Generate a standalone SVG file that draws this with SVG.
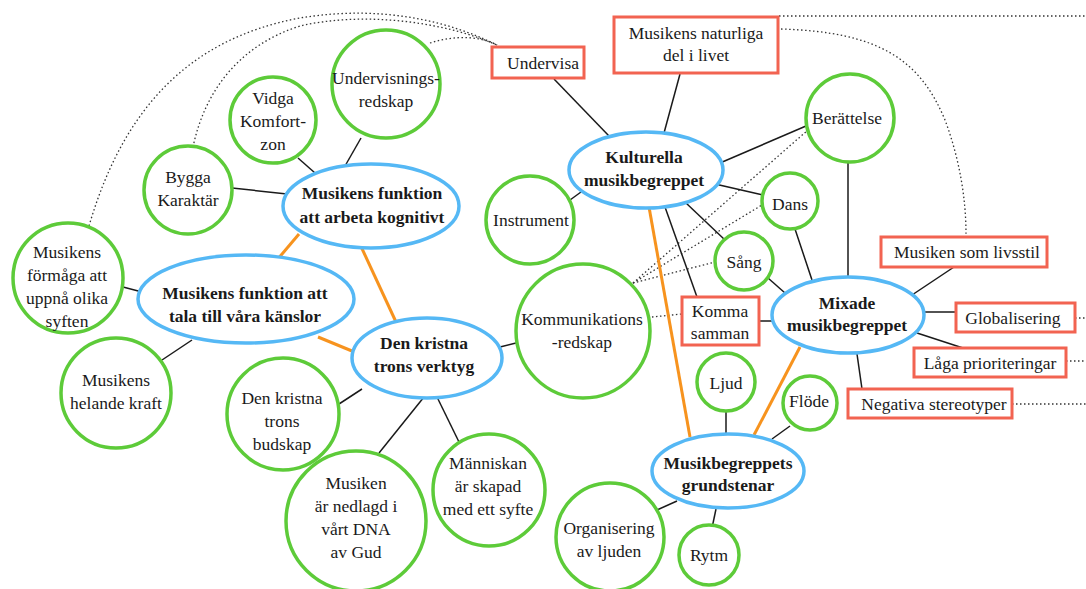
<svg xmlns="http://www.w3.org/2000/svg" width="1086" height="589" viewBox="0 0 1086 589" font-family="'Liberation Serif', 'DejaVu Serif', 'Times New Roman', serif">
<style>
.c{fill:#fff;stroke:#5dcb39;stroke-width:3.5}
.e{fill:#fff;stroke:#55b8f5;stroke-width:3.5}
.r{fill:#fff;stroke:#f26351;stroke-width:3}
text{font-family:'Liberation Serif','DejaVu Serif','Times New Roman',serif}
.t{font-size:17.5px;fill:#1a1a1a;text-anchor:middle}
.b{font-weight:bold}
.k{stroke:#1a1a1a;stroke-width:1.5;fill:none}
.o{stroke:#f7931e;stroke-width:3;fill:none}
.d{stroke:#333;stroke-width:1.3;fill:none;stroke-dasharray:1.5 2.5}
</style>
<rect width="1086" height="589" fill="#fff"/>
<g id="connectors">
<path class="d" d="M89,226 C120,120 180,40 300,18 C360,8 430,12 497,45"/>
<path class="d" d="M193,147 C205,90 240,45 300,26 C360,12 440,20 497,45"/>
<path class="d" d="M430,43 C455,35 480,36 497,45"/>
<path class="d" d="M781,29 C880,32 920,60 945,120 C960,160 966,200 966,234"/>
<path class="d" d="M779,16 L1086,16"/>
<path class="d" d="M1075,318 L1086,318"/>
<path class="d" d="M1066,361 L1086,361"/>
<path class="d" d="M1012,404 L1086,404"/>
<path class="d" d="M633,283 L808,130"/>
<path class="d" d="M633,283 L762,205"/>
<path class="d" d="M633,283 L715,262"/>
<path class="d" d="M652,317 L682,314"/>
<line class="k" x1="361" y1="138" x2="345" y2="166"/>
<line class="k" x1="298" y1="158" x2="315" y2="173"/>
<line class="k" x1="232" y1="188" x2="287" y2="194"/>
<line class="k" x1="123" y1="287" x2="142" y2="292"/>
<line class="k" x1="162" y1="360" x2="192" y2="340"/>
<line class="k" x1="339" y1="404" x2="362" y2="389"/>
<line class="k" x1="379" y1="453" x2="424" y2="397"/>
<line class="k" x1="459" y1="442" x2="437" y2="397"/>
<line class="k" x1="516" y1="343" x2="500" y2="347"/>
<line class="k" x1="554" y1="79" x2="609" y2="136"/>
<line class="k" x1="680" y1="74" x2="664" y2="133"/>
<line class="k" x1="570" y1="200" x2="581" y2="192"/>
<line class="k" x1="720" y1="163" x2="806" y2="126"/>
<line class="k" x1="715" y1="184" x2="763" y2="195"/>
<line class="k" x1="686" y1="203" x2="725" y2="240"/>
<line class="k" x1="665" y1="207" x2="697" y2="297"/>
<line class="k" x1="768" y1="278" x2="785" y2="293"/>
<line class="k" x1="795" y1="229" x2="812" y2="280"/>
<line class="k" x1="848" y1="162" x2="848" y2="278"/>
<line class="k" x1="954" y1="267" x2="912" y2="295"/>
<line class="k" x1="759" y1="321" x2="772" y2="321"/>
<line class="k" x1="923" y1="312" x2="956" y2="312"/>
<line class="k" x1="917" y1="333" x2="963" y2="348"/>
<line class="k" x1="857" y1="354" x2="862" y2="389"/>
<line class="k" x1="726" y1="411" x2="726" y2="434"/>
<line class="k" x1="790" y1="426" x2="772" y2="439"/>
<line class="k" x1="657" y1="510" x2="677" y2="501"/>
<line class="k" x1="712" y1="528" x2="716" y2="509"/>
<line class="o" x1="299" y1="234" x2="277" y2="260"/>
<line class="o" x1="358" y1="240" x2="396" y2="322"/>
<line class="o" x1="318" y1="337" x2="352" y2="351"/>
<line class="o" x1="649" y1="207" x2="690" y2="437"/>
<line class="o" x1="800" y1="347" x2="754" y2="435"/>
</g>
<g id="undervisningsredskap"><circle class="c" cx="386" cy="84" r="54"/><text class="t" x="386" y="84">Undervisnings-</text><text class="t" x="386" y="107">redskap</text></g>
<g id="vidga"><circle class="c" cx="273" cy="120" r="43"/><text class="t" x="273" y="104">Vidga</text><text class="t" x="273" y="127">Komfort-</text><text class="t" x="273" y="150">zon</text></g>
<g id="bygga"><circle class="c" cx="188" cy="190" r="44"/><text class="t" x="188" y="183">Bygga</text><text class="t" x="188" y="206">Karaktär</text></g>
<g id="formaga"><circle class="c" cx="68" cy="278" r="55"/><text class="t" x="67" y="258">Musikens</text><text class="t" x="67" y="281">förmåga att</text><text class="t" x="67" y="304">uppnå olika</text><text class="t" x="67" y="327">syften</text></g>
<g id="helande"><circle class="c" cx="116" cy="393" r="55"/><text class="t" x="116" y="386">Musikens</text><text class="t" x="116" y="409">helande kraft</text></g>
<g id="budskap"><circle class="c" cx="283" cy="414" r="56"/><text class="t" x="282" y="404">Den kristna</text><text class="t" x="282" y="427">trons</text><text class="t" x="282" y="450">budskap</text></g>
<g id="dna"><circle class="c" cx="356" cy="521" r="70"/><text class="t" x="356" y="489">Musiken</text><text class="t" x="356" y="512">är nedlagd i</text><text class="t" x="356" y="535">vårt DNA</text><text class="t" x="356" y="558">av Gud</text></g>
<g id="manniskan"><circle class="c" cx="489" cy="490" r="56"/><text class="t" x="488" y="469">Människan</text><text class="t" x="488" y="492">är skapad</text><text class="t" x="488" y="515">med ett syfte</text></g>
<g id="kommunikation"><circle class="c" cx="583" cy="331" r="67"/><text class="t" x="582" y="325">Kommunikations</text><text class="t" x="582" y="348">-redskap</text></g>
<g id="instrument"><circle class="c" cx="530" cy="220" r="44"/><text class="t" x="531" y="226">Instrument</text></g>
<g id="organisering"><circle class="c" cx="610" cy="537" r="54"/><text class="t" x="609" y="534">Organisering</text><text class="t" x="609" y="557">av ljuden</text></g>
<g id="rytm"><circle class="c" cx="709" cy="555" r="30"/><text class="t" x="709" y="561">Rytm</text></g>
<g id="ljud"><circle class="c" cx="726" cy="382" r="29"/><text class="t" x="726" y="389">Ljud</text></g>
<g id="flode"><circle class="c" cx="810" cy="403" r="27"/><text class="t" x="809" y="407">Flöde</text></g>
<g id="sang"><circle class="c" cx="744" cy="261" r="29"/><text class="t" x="744" y="268">Sång</text></g>
<g id="dans"><circle class="c" cx="790" cy="201" r="28"/><text class="t" x="790" y="210">Dans</text></g>
<g id="berattelse"><circle class="c" cx="850" cy="118" r="44"/><text class="t" x="847" y="124">Berättelse</text></g>
<g id="kognitivt"><ellipse class="e" cx="371" cy="206" rx="88" ry="42"/><text class="t b" x="372" y="199">Musikens funktion</text><text class="t b" x="372" y="223">att arbeta kognitivt</text></g>
<g id="kanslor"><ellipse class="e" cx="246" cy="299" rx="108" ry="44"/><text class="t b" x="245" y="299">Musikens funktion att</text><text class="t b" x="245" y="322">tala till våra känslor</text></g>
<g id="verktyg"><ellipse class="e" cx="427" cy="358" rx="75" ry="40"/><text class="t b" x="424" y="349">Den kristna</text><text class="t b" x="424" y="372">trons verktyg</text></g>
<g id="kulturella"><ellipse class="e" cx="646" cy="170" rx="77" ry="38"/><text class="t b" x="644" y="163">Kulturella</text><text class="t b" x="644" y="186">musikbegreppet</text></g>
<g id="mixade"><ellipse class="e" cx="848" cy="315" rx="76" ry="38"/><text class="t b" x="847" y="309">Mixade</text><text class="t b" x="847" y="331">musikbegreppet</text></g>
<g id="grundstenar"><ellipse class="e" cx="728" cy="471" rx="76" ry="37"/><text class="t b" x="728" y="469">Musikbegreppets</text><text class="t b" x="728" y="491">grundstenar</text></g>
<g id="undervisa"><rect class="r" x="492" y="47" width="92" height="31"/><text class="t" x="543" y="69">Undervisa</text></g>
<g id="naturliga"><rect class="r" x="614" y="17" width="164" height="56"/><text class="t" x="696" y="39">Musikens naturliga</text><text class="t" x="696" y="61">del i livet</text></g>
<g id="livsstil"><rect class="r" x="881" y="237" width="166" height="30"/><text class="t" x="967" y="258">Musiken som livsstil</text></g>
<g id="komma"><rect class="r" x="682" y="297" width="77" height="48"/><text class="t" x="720" y="317">Komma</text><text class="t" x="720" y="339">samman</text></g>
<g id="globalisering"><rect class="r" x="956" y="303" width="119" height="29"/><text class="t" x="1013" y="324">Globalisering</text></g>
<g id="laga"><rect class="r" x="914" y="348" width="152" height="29"/><text class="t" x="990" y="369">Låga prioriteringar</text></g>
<g id="negativa"><rect class="r" x="848" y="389" width="164" height="29"/><text class="t" x="934" y="410">Negativa stereotyper</text></g>
</svg>
